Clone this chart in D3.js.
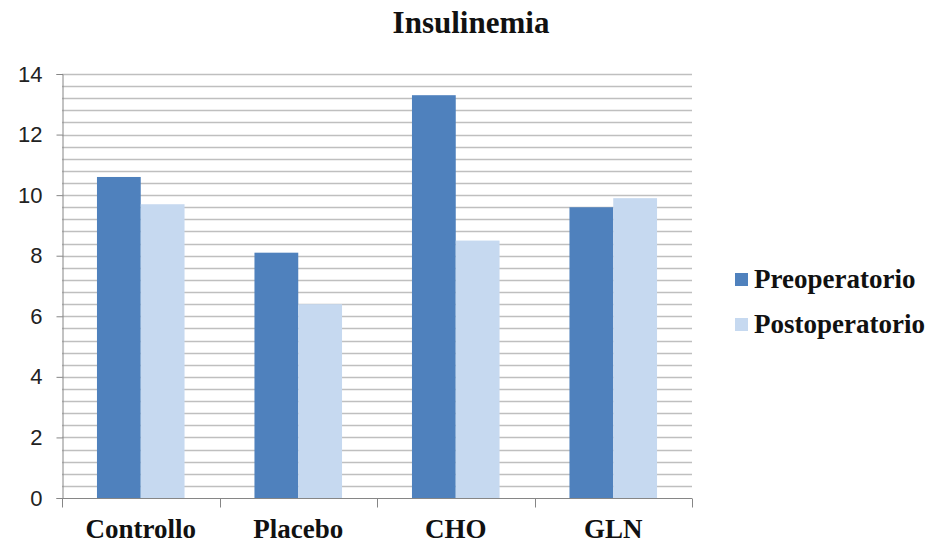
<!DOCTYPE html>
<html>
<head>
<meta charset="utf-8">
<script src="https://cdn.jsdelivr.net/npm/d3@7"></script>
<style>
  body { margin: 0; background: #fff; }
  svg { display: block; }
</style>
</head>
<body>
<svg></svg>
<script>
// data
const categories = ["Controllo", "Placebo", "CHO", "GLN"];
const seriesNames = ["Preoperatorio", "Postoperatorio"];
const preValues = [10.6, 8.1, 13.3, 9.6];
const postValues = [9.7, 6.4, 8.5, 9.9];
const yTicks = [0, 2, 4, 6, 8, 10, 12, 14];

const width = 929, height = 544;
const svg = d3.select("svg").attr("width", width).attr("height", height);

const colors = { Preoperatorio: "#4f81bd", Postoperatorio: "#c6d9f0" };

const plotLeft = 62, plotRight = 692, plotTop = 74, plotBottom = 498;

const y = d3.scaleLinear().domain([0, 14]).range([plotBottom, plotTop]);
const x0 = d3.scaleBand().domain(categories).range([plotLeft, plotRight]).padding(0);
const bw = x0.bandwidth();
const x1 = d3.scaleBand().domain(seriesNames).range([bw * 0.222, bw * 0.778]).padding(0);

// gridlines every 0.4
const grid = d3.range(0, 14.0001, 0.4).filter(v => v > 0.01);
svg.append("g").selectAll("line")
    .data(grid)
    .enter().append("line")
    .attr("x1", plotLeft).attr("x2", plotRight)
    .attr("y1", d => Math.round(y(d)) + 0.5)
    .attr("y2", d => Math.round(y(d)) + 0.5)
    .attr("stroke", "#bfbfbf")
    .attr("stroke-width", 1.5);

// bars
const rows = categories.map((c, i) => ({ cat: c, vals: [preValues[i], postValues[i]] }));
const groups = svg.append("g").selectAll("g")
    .data(rows)
    .enter().append("g")
    .attr("transform", d => `translate(${x0(d.cat)},0)`);

groups.selectAll("rect")
    .data(d => d.vals.map((v, j) => ({ s: seriesNames[j], v: v })))
    .enter().append("rect")
    .attr("x", d => x1(d.s))
    .attr("width", x1.bandwidth())
    .attr("y", d => y(d.v))
    .attr("height", d => plotBottom - y(d.v))
    .attr("fill", d => colors[d.s]);

// y axis
const yAxis = d3.axisLeft(y).tickValues(yTicks).tickSize(6).tickPadding(14).tickFormat(d3.format("d"));
const gy = svg.append("g").attr("transform", `translate(${plotLeft + 0.5},0)`).call(yAxis);
gy.select(".domain").attr("stroke", "#868686");
gy.selectAll(".tick line").attr("stroke", "#868686");
gy.selectAll("text")
    .attr("fill", "#222")
    .style("font-family", "'Liberation Sans', Arial, sans-serif")
    .style("font-size", "22px");

// x axis
const gx = svg.append("g").attr("transform", `translate(0,${plotBottom + 0.5})`);
gx.append("line").attr("x1", plotLeft).attr("x2", plotRight).attr("stroke", "#868686");
gx.selectAll(".xtick")
    .data(d3.range(categories.length + 1))
    .enter().append("line")
    .attr("x1", i => Math.round(plotLeft + i * bw) + 0.5)
    .attr("x2", i => Math.round(plotLeft + i * bw) + 0.5)
    .attr("y1", 0).attr("y2", 9)
    .attr("stroke", "#868686");
gx.selectAll(".xlab")
    .data(categories)
    .enter().append("text")
    .attr("x", d => x0(d) + bw / 2)
    .attr("y", 39)
    .attr("text-anchor", "middle")
    .style("font-family", "'Liberation Serif', 'Times New Roman', serif")
    .style("font-weight", "bold")
    .style("font-size", "27px")
    .attr("fill", "#111")
    .text(d => d);

// title
svg.append("text")
    .attr("x", 471).attr("y", 33)
    .attr("text-anchor", "middle")
    .style("font-family", "'Liberation Serif', 'Times New Roman', serif")
    .style("font-weight", "bold")
    .style("font-size", "31px")
    .attr("fill", "#111")
    .text("Insulinemia");

// legend
const legend = svg.append("g").selectAll("g")
    .data(seriesNames)
    .enter().append("g")
    .attr("transform", (d, i) => `translate(735,${288 + i * 45})`);
legend.append("rect")
    .attr("x", 0).attr("y", -15)
    .attr("width", 13).attr("height", 13)
    .attr("fill", d => colors[d]);
legend.append("text")
    .attr("x", 19).attr("y", 0)
    .style("font-family", "'Liberation Serif', 'Times New Roman', serif")
    .style("font-weight", "bold")
    .style("font-size", "27px")
    .attr("fill", "#111")
    .text(d => d);
</script>
</body>
</html>
